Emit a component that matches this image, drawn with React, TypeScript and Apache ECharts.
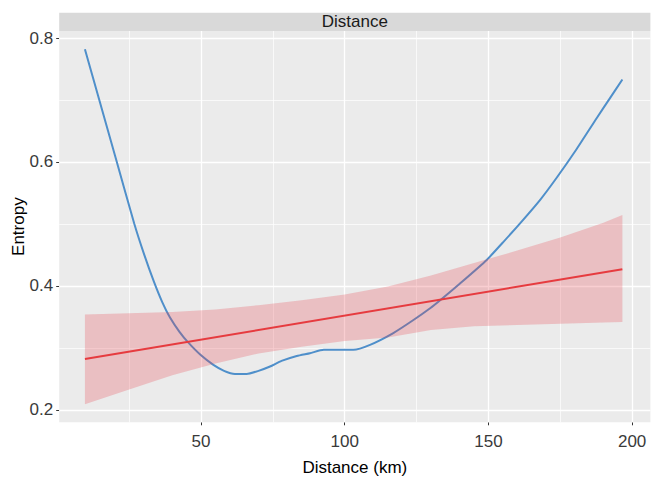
import React, { useEffect, useRef } from "react";
import * as echarts from "echarts";

// Blue (observed smoothed) entropy curve
const blueX = [9.6, 14.6, 20.7, 26.8, 30.2, 33.6, 36.5, 39.2, 42.5, 45.6, 50, 54.3, 58, 61.8, 65.9, 70, 74, 78, 83.3, 87.9, 92.7, 103, 108.8, 116.9, 123.9, 129.7, 133.2, 140.1, 149.4, 155, 161, 168, 173.8, 180.7, 187.7, 192, 196.6];
const blueY = [0.782, 0.7, 0.6, 0.5, 0.451, 0.407, 0.374, 0.349, 0.326, 0.3085, 0.288, 0.2726, 0.263, 0.258, 0.258, 0.263, 0.27, 0.279, 0.287, 0.2915, 0.297, 0.297, 0.305, 0.324, 0.345, 0.364, 0.377, 0.404, 0.442, 0.47, 0.501, 0.539, 0.575, 0.621, 0.671, 0.701, 0.733];

// Red linear fit
const redX = [9.6, 196.6];
const redY = [0.282, 0.427];

// Confidence ribbon of the linear fit
const ribbonX = [9.6, 25, 40, 55, 70, 85, 100, 115, 130, 145, 160, 175, 190, 196.6];
const ribbonUpper = [0.354, 0.356, 0.358, 0.362, 0.369, 0.377, 0.386, 0.399, 0.417, 0.437, 0.457, 0.478, 0.502, 0.5145];
const ribbonLower = [0.209, 0.233, 0.256, 0.275, 0.291, 0.302, 0.311, 0.317, 0.329, 0.335, 0.337, 0.339, 0.341, 0.342];

// Axis ticks
const xMajor = [50, 100, 150, 200];
const xMinor = [25, 75, 125, 175];
const yMajor = [0.2, 0.4, 0.6, 0.8];
const yMinor = [0.3, 0.5, 0.7];

const FONT = "'Liberation Sans', Arial, Helvetica, sans-serif";

export default function App() {
  const ref = useRef<HTMLDivElement>(null);

  useEffect(() => {
    if (!ref.current) return;
    const chart = echarts.init(ref.current, undefined, { renderer: "svg" });

    const gridLines = [
      ...xMajor.map((v) => ({ xAxis: v, lineStyle: { color: "#ffffff", width: 1.3, type: "solid" } })),
      ...xMinor.map((v) => ({ xAxis: v, lineStyle: { color: "#ffffff", width: 0.7, type: "solid" } })),
      ...yMajor.map((v) => ({ yAxis: v, lineStyle: { color: "#ffffff", width: 1.3, type: "solid" } })),
      ...yMinor.map((v) => ({ yAxis: v, lineStyle: { color: "#ffffff", width: 0.7, type: "solid" } })),
    ];

    const option: any = {
      animation: false,
      textStyle: { fontFamily: FONT },
      grid: {
        left: 59.2,
        right: 0.6,
        top: 31,
        bottom: 54.7,
        show: true,
        backgroundColor: "#ebebeb",
        borderWidth: 0,
        containLabel: false,
        outerBoundsMode: "none",
      },
      xAxis: {
        type: "value",
        min: 0.65,
        max: 206.35,
        name: "Distance (km)",
        nameLocation: "middle",
        nameGap: 37,
        nameMoveOverlap: false,
        nameTextStyle: { fontSize: 17, color: "#000000", fontFamily: FONT },
        axisLine: { show: false },
        axisTick: { show: true, length: 3, lineStyle: { color: "#333333", width: 1 }, customValues: xMajor },
        axisLabel: { customValues: xMajor, fontSize: 17, color: "#3a3a3a", margin: 11, fontFamily: FONT },
        splitLine: { show: false },
      },
      yAxis: {
        type: "value",
        min: 0.18,
        max: 0.8113,
        name: "Entropy",
        nameLocation: "middle",
        nameGap: 32,
        nameMoveOverlap: false,
        nameTextStyle: { fontSize: 17, color: "#000000", fontFamily: FONT },
        axisLine: { show: false },
        axisTick: { show: true, length: 3, lineStyle: { color: "#333333", width: 1 }, customValues: yMajor },
        axisLabel: {
          customValues: yMajor,
          fontSize: 17,
          color: "#3a3a3a",
          margin: 6,
          fontFamily: FONT,
          formatter: (v: number) => v.toFixed(1),
        },
        splitLine: { show: false },
      },
      graphic: [
        {
          type: "rect",
          shape: { x: 59.2, y: 12.7, width: 591.2, height: 18.3 },
          style: { fill: "#d9d9d9" },
          silent: true,
        },
        {
          type: "text",
          x: 354.8,
          y: 21.6,
          style: {
            text: "Distance",
            fontSize: 17,
            fontFamily: FONT,
            fill: "#1a1a1a",
            align: "center",
            verticalAlign: "middle",
          },
          silent: true,
        },
      ],
      series: [
        {
          name: "grid",
          type: "line",
          data: [],
          silent: true,
          z: 1,
          markLine: {
            silent: true,
            z: 1,
            symbol: ["none", "none"],
            label: { show: false },
            emphasis: { disabled: true },
            data: gridLines,
          },
        },
        {
          name: "Observed",
          type: "line",
          data: blueX.map((x, i) => [x, blueY[i]]),
          showSymbol: false,
          smooth: 0.2,
          lineStyle: { color: "#4f8fca", width: 2 },
          z: 2,
        },
        {
          name: "95% CI",
          type: "custom",
          silent: true,
          z: 3,
          data: ribbonX.map((x, i) => [x, ribbonLower[i], ribbonUpper[i]]),
          encode: { x: 0, y: [1, 2] },
          renderItem: (params: any, api: any) => {
            if (params.dataIndex !== 0) return null;
            const pts: number[][] = [];
            for (let i = 0; i < ribbonX.length; i++) {
              pts.push(api.coord([ribbonX[i], ribbonUpper[i]]));
            }
            for (let i = ribbonX.length - 1; i >= 0; i--) {
              pts.push(api.coord([ribbonX[i], ribbonLower[i]]));
            }
            return {
              type: "polygon",
              shape: { points: pts },
              style: { fill: "rgba(230, 60, 70, 0.25)" },
            };
          },
        },
        {
          name: "Linear fit",
          type: "line",
          data: redX.map((x, i) => [x, redY[i]]),
          showSymbol: false,
          lineStyle: { color: "#e63b3f", width: 2 },
          z: 4,
        },
      ],
    };

    chart.setOption(option);
    return () => chart.dispose();
  }, []);

  return (
    <div
      ref={ref}
      style={{ position: "absolute", left: 0, top: 0, width: 651, height: 477 }}
    />
  );
}
